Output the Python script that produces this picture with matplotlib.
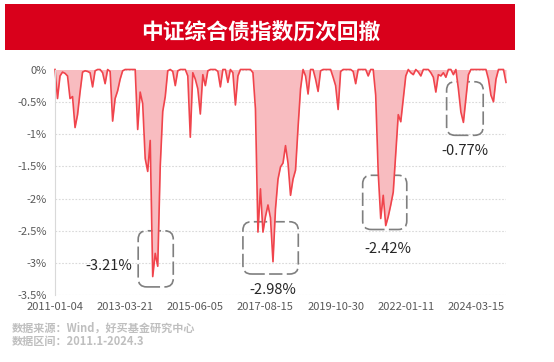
import numpy as np
import matplotlib
matplotlib.use("Agg")
import matplotlib.pyplot as plt
from matplotlib.patches import FancyBboxPatch, Rectangle
from matplotlib.ticker import FuncFormatter

plt.rcParams['font.family'] = ['Noto Sans CJK SC', 'DejaVu Sans']

title = "中证综合债指数历次回撤"
source_lines = ["数据来源：Wind，好买基金研究中心", "数据区间：2011.1-2024.3"]

date_labels = ["2011-01-04", "2013-03-21", "2015-06-05", "2017-08-15",
               "2019-10-30", "2022-01-11", "2024-03-15"]
label_step = 28

# drawdown in % (evenly spaced samples)
drawdown = [
    0, -0.45, -0.1, -0.04, -0.06, -0.1, -0.45, -0.42, -0.9, -0.7,
    -0.35, -0.04, -0.02, -0.03, -0.05, -0.27, -0.02, 0, 0, -0.05,
    -0.22, 0, -0.03, -0.8, -0.45, -0.33, -0.15, -0.02, 0, 0,
    0, 0, 0, -0.93, -0.35, -0.53, -1.38, -1.58, -1.1, -3.21,
    -2.85, -3.05, -1.5, -0.65, -0.42, -0.02, 0, -0.03, -0.25, -0.02,
    0, 0, 0, -0.1, -1.05, -0.05, -0.15, -0.3, -0.69, -0.08,
    -0.25, -0.02, 0, 0, 0, -0.03, -0.27, 0, 0, -0.2,
    0, -0.05, -0.55, -0.1, 0, 0, 0, 0, 0, -0.05,
    -0.61, -2.52, -1.85, -2.52, -2.28, -2.1, -2.3, -2.98, -2.16, -1.7,
    -1.51, -1.45, -1.18, -1.45, -1.95, -1.7, -1.56, -0.9, -0.3, 0,
    -0.1, -0.38, 0, 0, -0.15, -0.34, -0.02, 0, 0, 0,
    0, -0.12, -0.25, -0.62, -0.03, 0, 0, 0, 0, -0.03,
    -0.22, 0, 0, 0, 0, -0.1, 0, 0, -0.4, -1.6,
    -2.31, -1.95, -2.42, -2.28, -2.1, -1.9, -1.3, -0.7, -0.81, -0.45,
    -0.1, 0, -0.05, -0.08, 0, -0.04, -0.1, 0, 0, 0,
    -0.05, -0.12, -0.35, -0.08, -0.1, -0.05, -0.12, 0, 0, -0.08,
    0, -0.3, -0.66, -0.82, -0.45, -0.08, 0, 0, 0, 0,
    0, 0, 0, -0.15, -0.4, -0.5, -0.15, 0, 0, 0,
    -0.2,
]

trough_labels = ["-3.21%", "-2.98%", "-2.42%", "-0.77%"]
# dashed boxes: x0, x1, y0, y1 (data units) and label anchor
boxes = [(33.2, 47.2, -3.37, -2.50), (75.0, 97.1, -3.17, -2.36),
         (122.8, 140.4, -2.48, -1.64), (156.3, 170.9, -1.02, -0.19)]
label_pos = [(31.0, -3.04, 'right'), (86.9, -3.42, 'center'),
             (133.0, -2.78, 'center'), (163.6, -1.27, 'center')]

line_color = '#F0444C'
fill_color = '#F8BCC0'

x = np.arange(len(drawdown))

fig = plt.figure(figsize=(5.54, 3.62), dpi=100)

# red title bar
fig.patches.append(Rectangle((5 / 554, 1 - 50 / 362), 510 / 554, 46 / 362,
                             transform=fig.transFigure, facecolor='#D9001B',
                             edgecolor='none'))
fig.text(260.5 / 554, 1 - 33 / 362, title, color='white', fontsize=15.7,
         fontweight='bold', ha='center', va='center')

ax = fig.add_axes([55 / 554, 1 - 295.3 / 362, 451 / 554, 225.8 / 362])
ax.fill_between(x, drawdown, 0, color=fill_color, linewidth=0, zorder=1)
ax.plot(x, drawdown, color=line_color, linewidth=1.2, clip_on=False, zorder=2)

ax.set_xlim(0, len(drawdown) - 1)
ax.set_ylim(-3.5, 0)
ax.set_yticks(np.arange(-3.5, 0.01, 0.5))
ax.yaxis.set_major_formatter(FuncFormatter(lambda v, p: f"{v:g}%"))
ax.set_xticks(np.arange(len(date_labels)) * label_step)
ax.set_xticklabels(date_labels)
ax.tick_params(axis='both', length=0, colors='#595959', labelsize=8)
ax.tick_params(axis='y', pad=6)
ax.tick_params(axis='x', pad=5)

ax.grid(axis='y', color='#D9D9D9', linestyle=(0, (1.5, 1.5)), linewidth=0.8)
ax.set_axisbelow(True)
for s in ['top', 'right', 'bottom']:
    ax.spines[s].set_visible(False)
ax.spines['left'].set_color('#D9D9D9')

# dashed boxes round the troughs (drawn under the fill, like the original)
aspect = (3.5 / 225.8) / ((len(drawdown) - 1) / 451)
for (x0, x1, y0, y1), txt, (lx, ly, ha) in zip(boxes, trough_labels, label_pos):
    box = FancyBboxPatch((x0, y0), x1 - x0, y1 - y0,
                         boxstyle="round,pad=0,rounding_size=3.4",
                         mutation_aspect=aspect, fill=False,
                         edgecolor='#7F7F7F', linewidth=1.2,
                         linestyle=(0, (8, 2.6)), zorder=0.9, clip_on=False)
    ax.add_patch(box)
    ax.text(lx, ly, txt, ha=ha, va='center', fontsize=10.5, color='#262626',
            zorder=6)

fig.text(12 / 554, 1 - 328 / 362, source_lines[0], color='#BFBFBF',
         fontsize=8, fontweight='bold', ha='left', va='center')
fig.text(12 / 554, 1 - 341 / 362, source_lines[1], color='#BFBFBF',
         fontsize=8, fontweight='bold', ha='left', va='center')

fig.savefig("out.png", dpi=100)
